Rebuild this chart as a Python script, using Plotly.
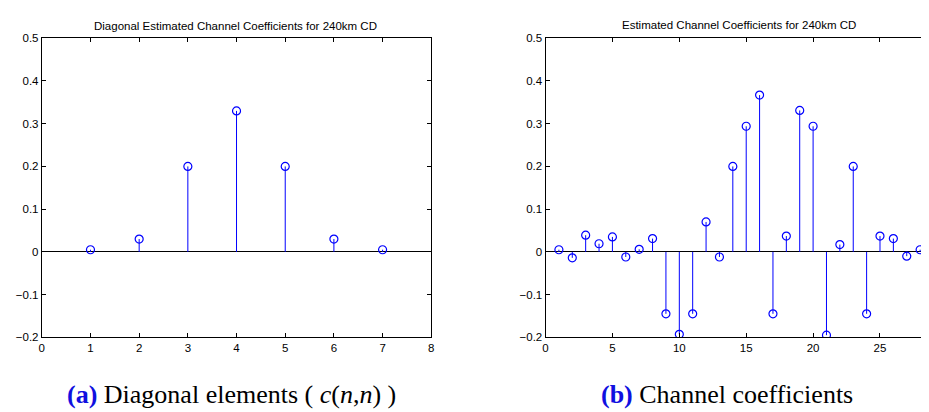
import plotly.graph_objects as go

# Data
n_diag = [1, 2, 3, 4, 5, 6, 7]
c_diag = [0.005, 0.03, 0.2, 0.33, 0.2, 0.03, 0.005]

n_chan = list(range(1, 29))
c_chan = [0.005, -0.014, 0.039, 0.019, 0.035, -0.012, 0.006, 0.031,
          -0.145, -0.193, -0.145, 0.07, -0.012, 0.2, 0.294, 0.367,
          -0.145, 0.037, 0.331, 0.294, -0.195, 0.017, 0.2, -0.145,
          0.037, 0.031, -0.01, 0.005]

title_a = "Diagonal Estimated Channel Coefficients for 240km CD"
title_b = "Estimated Channel Coefficients for 240km CD"
caption_a = "<b><span style='color:#1010e0'>(a)</span></b> Diagonal elements ( <i>c</i>(<i>n</i>,<i>n</i>) )"
caption_b = "<b><span style='color:#1010e0'>(b)</span></b> Channel coefficients"

W, H = 929, 412
BLUE = "#0000ff"
SANS = "Liberation Sans, Arial, sans-serif"


def stems(xs, ys):
    sx, sy = [], []
    for x, y in zip(xs, ys):
        sx += [x, x, None]
        sy += [0, y, None]
    return sx, sy


fig = go.Figure()

for xs, ys, xa, ya in [(n_diag, c_diag, "x", "y"), (n_chan, c_chan, "x2", "y2")]:
    sx, sy = stems(xs, ys)
    fig.add_trace(go.Scatter(x=sx, y=sy, mode="lines", line=dict(color=BLUE, width=1),
                             xaxis=xa, yaxis=ya, showlegend=False, hoverinfo="skip"))
    fig.add_trace(go.Scatter(x=xs, y=ys, mode="markers",
                             marker=dict(symbol="circle-open", size=8, color=BLUE,
                                         line=dict(width=1.2, color=BLUE)),
                             xaxis=xa, yaxis=ya, showlegend=False))

ydom = [1 - 333 / H, 1 - 25 / H]
axis_common = dict(showline=True, linecolor="black", linewidth=1, mirror="ticks",
                   ticks="inside", ticklen=4, tickcolor="black", showgrid=False,
                   tickfont=dict(family=SANS, size=11.5, color="black"))

fig.update_layout(
    width=W, height=H, margin=dict(l=0, r=0, t=0, b=0),
    paper_bgcolor="white", plot_bgcolor="white",
    xaxis=dict(domain=[31 / W, 423 / W], range=[0, 8], dtick=1, zeroline=False, anchor="y", **axis_common),
    yaxis=dict(domain=ydom, range=[-0.2, 0.5], dtick=0.1, zeroline=True, zerolinecolor="black",
               zerolinewidth=1, anchor="x", tickformat="~g", **axis_common),
    xaxis2=dict(domain=[538 / W, 928.5 / W], range=[0, 29], tick0=0, dtick=5, zeroline=False, anchor="y2", **axis_common),
    yaxis2=dict(domain=ydom, range=[-0.2, 0.5], dtick=0.1, zeroline=True, zerolinecolor="black",
                zerolinewidth=1, anchor="x2", tickformat="~g", **axis_common),
)

title_font = dict(family=SANS, size=11.5, color="black")
cap_font = dict(family="Liberation Serif, Times New Roman, serif", size=26, color="black")
fig.add_annotation(text=title_a, x=226 / W, y=1 - 12 / H, xref="paper", yref="paper",
                   xanchor="center", yanchor="middle", showarrow=False, font=title_font)
fig.add_annotation(text=title_b, x=733 / W, y=1 - 11 / H, xref="paper", yref="paper",
                   xanchor="center", yanchor="middle", showarrow=False, font=title_font)
fig.add_annotation(text=caption_a, x=222 / W, y=1 - 392 / H, xref="paper", yref="paper",
                   xanchor="center", yanchor="middle", showarrow=False, font=cap_font)
fig.add_annotation(text=caption_b, x=721 / W, y=1 - 392 / H, xref="paper", yref="paper",
                   xanchor="center", yanchor="middle", showarrow=False, font=cap_font)

fig.write_html("out.html")
